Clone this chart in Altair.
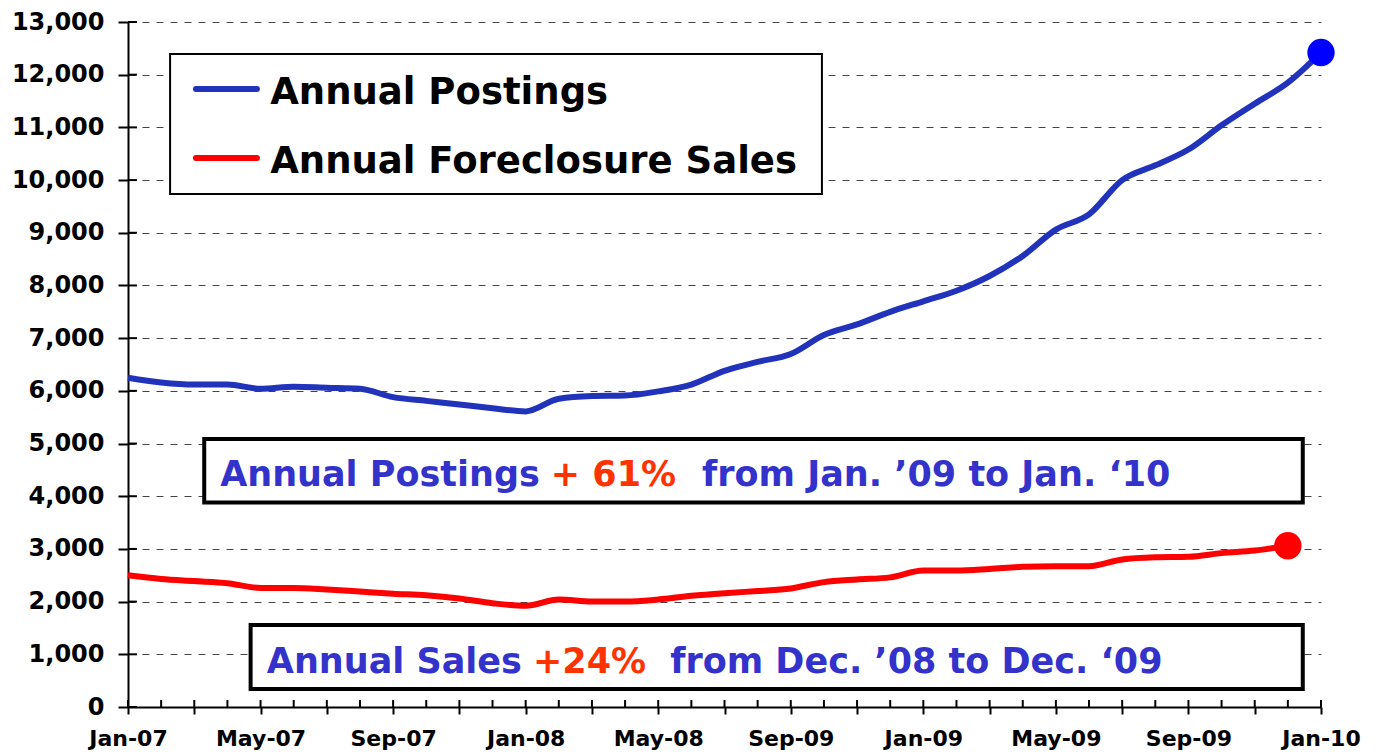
import json
import altair as alt
import pandas as pd

# ---------------- data ----------------
tick_labels = ["Jan-07", "May-07", "Sep-07", "Jan-08", "May-08",
               "Sep-09", "Jan-09", "May-09", "Sep-09", "Jan-10"]

# Annual postings, Jan-07 .. Jan-10 (37 months)
postings = [6250, 6160, 6120, 6120, 6040, 6080, 6060, 6040, 5880, 5810,
            5740, 5670, 5610, 5850, 5900, 5910, 5990, 6120, 6380, 6550,
            6700, 7060, 7260, 7500, 7700, 7900, 8180, 8560, 9060, 9350,
            10000, 10280, 10580, 11040, 11450, 11850, 12420]

# Annual foreclosure sales, Jan-07 .. Dec-09 (36 months)
sales = [2500, 2430, 2390, 2350, 2260, 2260, 2230, 2190, 2150, 2120,
         2060, 1970, 1920, 2040, 2000, 2000, 2040, 2110, 2160, 2200,
         2250, 2370, 2420, 2460, 2590, 2590, 2620, 2660, 2670, 2670,
         2800, 2840, 2850, 2920, 2970, 3060]

series_names = ["Annual Postings", "Annual Foreclosure Sales"]
line_colors = ["#2233BB", "#FF0000"]
dot_colors = ["#0000FF", "#FF0000"]
y_ticks = list(range(0, 13001, 1000))
months = list(range(len(postings)))

# legend placement (chart units: month index, value)
legend_box_m = [1.27, 20.94]
legend_box_v = [12393, 9736]
legend_line_m = [2.05, 3.89]
legend_line_v = [11728, 10419]
legend_text_m = 4.29
legend_text_v = [11444, 10134]

# annotation boxes (chart units)
box_m = [2.3, 3.7]
box_m2 = [35.45, 35.45]
box_v = [5085, 1556]
box_v2 = [3880, 342]

# annotation text pieces
blue_text = ["Annual Postings", "from Jan. \u201909 to Jan. \u201810",
             "Annual Sales", "from Dec. \u201908 to Dec. \u201809"]
blue_m = [2.78, 17.32, 4.19, 16.36]
blue_v = [4194, 4194, 645, 645]
red_text = ["+ 61%", "+24%"]
red_m = [12.76, 12.22]
red_v = [4194, 645]

FONT = "DejaVu Sans"
TEXT_BLUE = "#3333CC"
TEXT_RED = "#FF3300"

# ---------------- frames ----------------
rows = [{"m": i, "v": v, "s": series_names[0]} for i, v in enumerate(postings)]
rows += [{"m": i, "v": v, "s": series_names[1]} for i, v in enumerate(sales)]
df = pd.DataFrame(rows)

ends = pd.DataFrame({
    "m": [len(postings) - 1, len(sales) - 1],
    "v": [postings[-1], sales[-1]],
    "c": dot_colors,
})
boxes = pd.DataFrame({"m": box_m, "m2": box_m2, "v": box_v, "v2": box_v2})
blue_df = pd.DataFrame({"m": blue_m, "v": blue_v, "t": blue_text})
red_df = pd.DataFrame({"m": red_m, "v": red_v, "t": red_text})
xt = pd.DataFrame({"m": months})
yt = pd.DataFrame({"v": y_ticks})
leg_box = pd.DataFrame({"m": [legend_box_m[0]], "m2": [legend_box_m[1]],
                        "v": [legend_box_v[0]], "v2": [legend_box_v[1]]})
leg_lines = pd.DataFrame({"m": [legend_line_m[0]] * 2, "m2": [legend_line_m[1]] * 2,
                          "v": legend_line_v, "s": series_names})
leg_text = pd.DataFrame({"m": [legend_text_m] * 2, "v": legend_text_v,
                         "s": series_names})

x_scale = alt.Scale(domain=[0, len(postings) - 1], nice=False, zero=False)
y_scale = alt.Scale(domain=[0, 13000], nice=False)
color_scale = alt.Scale(domain=series_names, range=line_colors)

label_expr = ("datum.value % 4 == 0 ? " + json.dumps(tick_labels)
              + "[datum.value / 4] : ''")

x_axis = alt.Axis(values=months, labelExpr=label_expr, grid=False,
                  tickSize=7, tickWidth=2, tickColor="black",
                  domainColor="black", domainWidth=2,
                  labelFont=FONT, labelFontWeight="bold", labelFontSize=22,
                  labelColor="black", labelPadding=14,
                  labelOverlap=False, labelFlush=False, title=None)
y_axis = alt.Axis(values=y_ticks, format=",d", grid=True, gridDash=[7, 7],
                  gridColor="#444444", gridWidth=1,
                  tickSize=10, tickWidth=2, tickColor="black",
                  domainColor="black", domainWidth=2,
                  labelFont=FONT, labelFontWeight="bold", labelFontSize=24,
                  labelColor="black", labelPadding=14, title=None)

lines = alt.Chart(df).mark_line(strokeWidth=6, interpolate="monotone").encode(
    x=alt.X("m:Q", scale=x_scale, axis=x_axis, title=None),
    y=alt.Y("v:Q", scale=y_scale, axis=y_axis, title=None),
    color=alt.Color("s:N", scale=color_scale, legend=None),
)

dots = alt.Chart(ends).mark_circle(size=750, opacity=1).encode(
    x=alt.X("m:Q", title=None),
    y=alt.Y("v:Q", title=None),
    fill=alt.Fill("c:N", scale=None),
)

x_ticks_up = alt.Chart(xt).mark_rule(color="black", strokeWidth=2).encode(
    x=alt.X("m:Q", title=None),
    y=alt.datum(0),
    y2=alt.datum(133),
)
y_ticks_in = alt.Chart(yt).mark_rule(color="black", strokeWidth=2).encode(
    y=alt.Y("v:Q", title=None),
    x=alt.datum(0),
    x2=alt.datum(0.27),
)

# legend (drawn as marks)
leg_rect = alt.Chart(leg_box).mark_rect(fill="white", stroke="black", strokeWidth=2).encode(
    x=alt.X("m:Q", title=None), x2="m2",
    y=alt.Y("v:Q", title=None), y2="v2",
)
leg_rule = alt.Chart(leg_lines).mark_rule(strokeWidth=6, strokeCap="round").encode(
    x=alt.X("m:Q", title=None), x2="m2",
    y=alt.Y("v:Q", title=None),
    color=alt.Color("s:N", scale=color_scale, legend=None),
)
leg_lab = alt.Chart(leg_text).mark_text(
    align="left", baseline="alphabetic", font=FONT, fontWeight="bold",
    fontSize=37, color="black"
).encode(x=alt.X("m:Q", title=None), y=alt.Y("v:Q", title=None), text="s:N")

rects = alt.Chart(boxes).mark_rect(fill="white", stroke="black", strokeWidth=4).encode(
    x=alt.X("m:Q", title=None), x2="m2",
    y=alt.Y("v:Q", title=None), y2="v2",
)

blue_txt = alt.Chart(blue_df).mark_text(
    align="left", baseline="alphabetic", font=FONT, fontWeight="bold",
    fontSize=35, color=TEXT_BLUE
).encode(x=alt.X("m:Q", title=None), y=alt.Y("v:Q", title=None), text="t:N")

red_txt = alt.Chart(red_df).mark_text(
    align="left", baseline="alphabetic", font=FONT, fontWeight="bold",
    fontSize=35, color=TEXT_RED
).encode(x=alt.X("m:Q", title=None), y=alt.Y("v:Q", title=None), text="t:N")

chart = alt.layer(
    lines, dots, x_ticks_up, y_ticks_in, leg_rect, leg_rule, leg_lab,
    rects, blue_txt, red_txt
).properties(
    width=1193, height=685,
    padding={"left": 120, "top": 14, "right": 56, "bottom": 44},
    autosize=alt.AutoSizeParams(type="none"),
).configure_view(stroke=None)

chart.save("out.html", embed_options={"renderer": "svg", "actions": False})
